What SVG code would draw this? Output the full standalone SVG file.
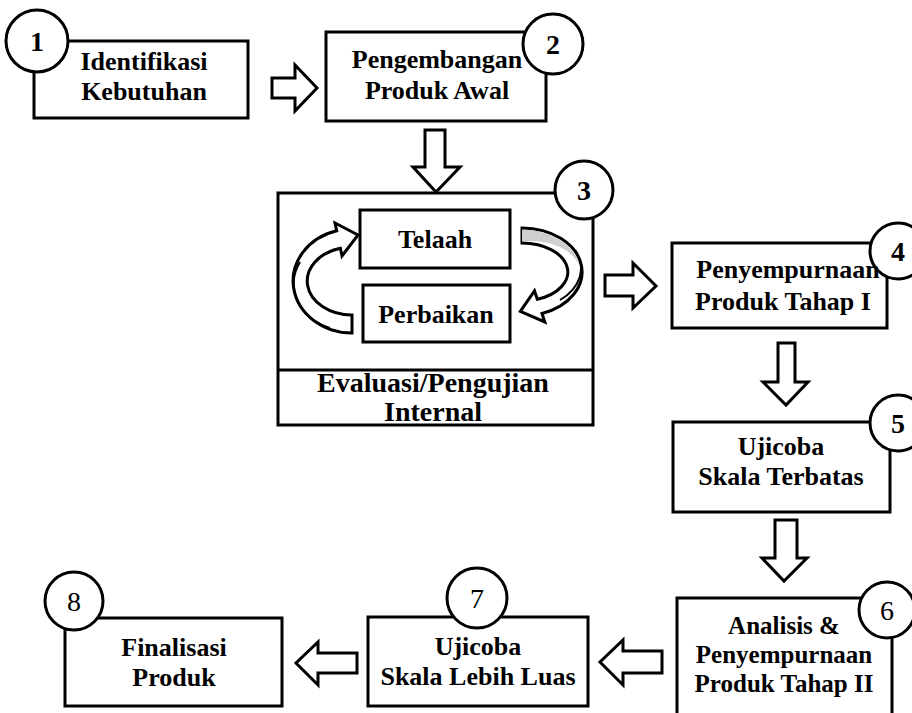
<svg xmlns="http://www.w3.org/2000/svg" width="912" height="713" viewBox="0 0 912 713">
<style>
.box{fill:#fff;stroke:#000;stroke-width:3}
.num{fill:#fff;stroke:#000;stroke-width:3}
.arr{fill:#fff;stroke:#000;stroke-width:3;stroke-linejoin:miter}
.t{font-family:"Liberation Serif","Times New Roman",serif;font-weight:bold;font-size:26px;text-anchor:middle;fill:#000}
.ts{font-family:"Liberation Serif","Times New Roman",serif;font-weight:bold;font-size:25px;text-anchor:middle;fill:#000}
.tl{font-family:"Liberation Serif","Times New Roman",serif;font-weight:bold;font-size:28px;text-anchor:middle;fill:#000}
.n{font-family:"Liberation Serif","Times New Roman",serif;font-weight:bold;font-size:28px;text-anchor:middle;fill:#000}
.nr{font-family:"Liberation Serif","Times New Roman",serif;font-weight:normal;font-size:28px;text-anchor:middle;fill:#000}
.thin{fill:none;stroke:#000;stroke-width:2}
</style>
<rect width="912" height="713" fill="#fff"/>
<g id="connectors">
<path class="arr" d="M272,78 H295 V65 L317,88 L295,111 V98 H272 Z"/>
<path class="arr" d="M425,130 H445 V167 H460 L436,192 L413,167 H425 Z"/>
<path class="arr" d="M605,275 H633 V263 L656,286 L633,308 V296 H605 Z"/>
<path class="arr" d="M778,343 H795 V382 H808 L786,405 L763,382 H778 Z"/>
<path class="arr" d="M775,520 H797 V558 H807 L784,581 L762,558 H775 Z"/>
<path class="arr" d="M662,651 H623 V640 L600,662 L623,685 V673 H662 Z"/>
<path class="arr" d="M357,653 H318 V642 L296,663 L318,685 V673 H357 Z"/>
</g>
<g id="node1">
<rect class="box" x="34" y="41" width="214" height="77"/>
<circle class="num" cx="37" cy="41" r="31"/>
<text class="n" x="37" y="51">1</text>
<text class="t" x="144" y="70">Identifikasi</text>
<text class="t" x="144" y="100">Kebutuhan</text>
</g>
<g id="node2">
<rect class="box" x="326" y="32" width="220" height="89"/>
<circle class="num" cx="553" cy="44" r="30"/>
<text class="n" x="553" y="54">2</text>
<text class="t" x="437" y="68">Pengembangan</text>
<text class="t" x="437" y="99">Produk Awal</text>
</g>
<g id="node3">
<rect class="box" x="278" y="193" width="315" height="232"/>
<line x1="278" y1="370" x2="593" y2="370" stroke="#000" stroke-width="3"/>
<circle class="num" cx="584" cy="190" r="29"/>
<text class="n" x="584" y="200">3</text>
<text class="tl" x="433" y="392">Evaluasi/Pengujian</text>
<text class="tl" x="433" y="421">Internal</text>
</g>
<g id="node3a">
<rect class="box" x="360" y="210" width="150" height="58"/>
<text class="t" x="435" y="248">Telaah</text>
</g>
<g id="node3b">
<rect class="box" x="363" y="285" width="147" height="57"/>
<text class="t" x="436" y="323">Perbaikan</text>
</g>
<g id="loop">
<path class="arr" d="M352,333 A59 52 0 0 1 336.7,230.8 L335,223 L358,235 L342,256 L340.4,248.2 A45 34 0 0 0 352,315 Z"/>
<path class="thin" d="M330,328 A54 47 0 0 1 300,262"/>
<path class="arr" d="M522,228 A60 44 0 0 1 542,313.5 L544.8,322 L520.3,311.4 L534.5,290.8 L537.3,299.3 A46 29 0 0 0 522,243 Z"/>
<path d="M522,229.5 A58.5 42.5 0 0 1 580,268 A50 33 0 0 0 522,241.5 Z" fill="#cfcfcf"/>
<path class="thin" d="M575,250 A54 40 0 0 1 560,300"/>
</g>
<g id="node4">
<rect class="box" x="672" y="243" width="215" height="85"/>
<circle class="num" cx="898" cy="251" r="28"/>
<text class="n" x="898" y="261">4</text>
<text class="t" x="788" y="278">Penyempurnaan</text>
<text class="t" x="783" y="310">Produk Tahap I</text>
</g>
<g id="node5">
<rect class="box" x="673" y="422" width="217" height="90"/>
<circle class="num" cx="898" cy="423" r="28"/>
<text class="n" x="898" y="433">5</text>
<text class="t" x="781" y="455">Ujicoba</text>
<text class="t" x="781" y="485">Skala Terbatas</text>
</g>
<g id="node6">
<rect class="box" x="677" y="598" width="215" height="130"/>
<circle class="num" cx="887" cy="610" r="28"/>
<text class="nr" x="887" y="620">6</text>
<text class="ts" x="784" y="634">Analisis &amp;</text>
<text class="ts" x="784" y="663">Penyempurnaan</text>
<text class="ts" x="784" y="692">Produk Tahap II</text>
</g>
<g id="node7">
<rect class="box" x="368" y="617" width="220" height="89"/>
<circle class="num" cx="477" cy="598" r="30"/>
<text class="nr" x="477" y="608">7</text>
<text class="t" x="478" y="655">Ujicoba</text>
<text class="t" x="478" y="685">Skala Lebih Luas</text>
</g>
<g id="node8">
<rect class="box" x="65" y="618" width="217" height="88"/>
<circle class="num" cx="74" cy="601" r="29"/>
<text class="nr" x="74" y="611">8</text>
<text class="t" x="174" y="656">Finalisasi</text>
<text class="t" x="174" y="686">Produk</text>
</g>
</svg>
